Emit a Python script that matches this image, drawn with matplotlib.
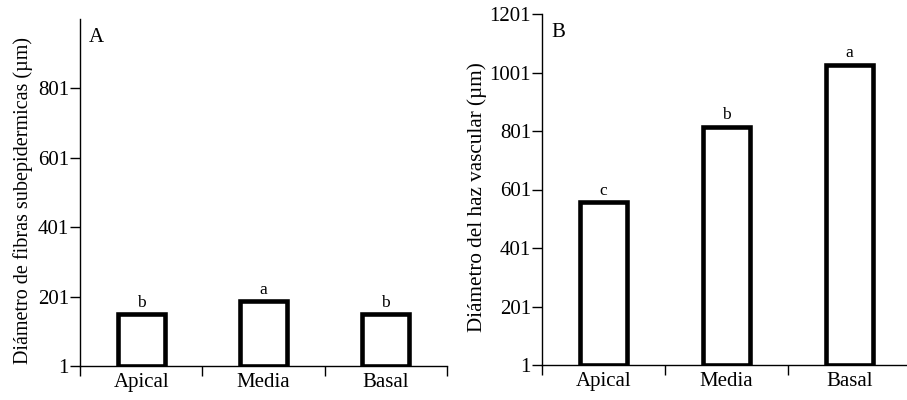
import numpy as np
import matplotlib.pyplot as plt

plt.rcParams["font.family"] = ["Liberation Serif", "DejaVu Serif"]

categories = ["Apical", "Media", "Basal"]

fibras = [150, 188, 150]
fibras_letters = ["b", "a", "b"]
fibras_ticks = [1, 201, 401, 601, 801]

haz = [558, 815, 1027]
haz_letters = ["c", "b", "a"]
haz_ticks = [1, 201, 401, 601, 801, 1001, 1201]

fig = plt.figure(figsize=(9.07, 4.0), dpi=100)
ax_a = fig.add_axes([80/907, 1-366/400, (447-80)/907, (366-19)/400])
ax_b = fig.add_axes([542/907, 1-365/400, (911-542)/907, (365-14)/400])


def draw_panel(ax, values, letters, yticks, ylim, ylabel, tag, label_xy, label_size):
    x = np.arange(len(categories))
    ax.bar(x, np.array(values) - 1, bottom=1, width=0.385,
           facecolor="white", edgecolor="black", linewidth=3.3, zorder=3)
    for xi, v, s in zip(x, values, letters):
        ax.annotate(s, (xi, v), xytext=(0, 2.5), textcoords="offset points",
                    ha="center", va="bottom", fontsize=12.5)
    ax.set_xlim(-0.5, len(categories) - 0.5)
    ax.set_ylim(*ylim)
    ax.set_yticks(yticks)
    ax.set_xticks(x)
    ax.set_xticklabels(categories)
    ax.set_xticks(np.arange(len(categories) + 1) - 0.5, minor=True)
    ax.tick_params(axis="x", which="major", length=0, labelsize=15, pad=5)
    ax.tick_params(axis="x", which="minor", length=7, width=1, direction="out")
    ax.tick_params(axis="y", length=7, width=1, direction="out", labelsize=15, pad=1)
    for side in ["top", "right"]:
        ax.spines[side].set_visible(False)
    ax.spines["left"].set_linewidth(1)
    ax.spines["bottom"].set_linewidth(1)
    ax.set_ylabel(ylabel, fontsize=label_size)
    ax.yaxis.set_label_coords(*label_xy)
    ax.text(0.025, 0.975, tag, transform=ax.transAxes, fontsize=15,
            ha="left", va="top")


draw_panel(ax_a, fibras, fibras_letters, fibras_ticks, (1, 1001),
           "Diámetro de fibras subepidermicas (µm)", "A", (-0.127, 0.478), 14.5)
draw_panel(ax_b, haz, haz_letters, haz_ticks, (1, 1201),
           "Diámetro del haz vascular (µm)", "B", (-0.148, 0.479), 15.2)

fig.savefig("out.png", dpi=100)
